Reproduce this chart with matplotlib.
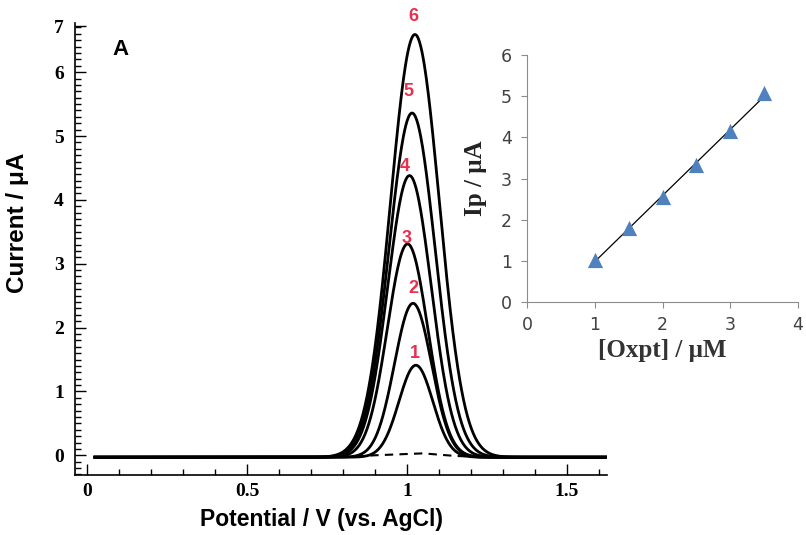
import numpy as np
import matplotlib
matplotlib.use("Agg")
import matplotlib.pyplot as plt
from matplotlib.ticker import MultipleLocator

# peak data (curves 1..6)
curve_labels = ["1", "2", "3", "4", "5", "6"]
peak_heights = [1.44, 2.41, 3.34, 4.41, 5.39, 6.62]    # uA above baseline
peak_centres = [1.028, 1.019, 1.002, 1.008, 1.016, 1.025]  # V
peak_widths = [0.053, 0.058, 0.063, 0.068, 0.072, 0.076]   # V (gaussian sigma)
baseline = -0.03

# where the red curve numbers sit
label_x = [1.025, 1.019, 1.000, 0.994, 1.006, 1.019]
label_y = [1.59, 2.61, 3.39, 4.53, 5.70, 6.875]

# blank (dashed) trace
blank_x = [0.84, 0.90, 0.95, 1.00, 1.05, 1.10, 1.15, 1.20]
blank_y = [-0.02, 0.00, 0.01, 0.02, 0.03, 0.01, -0.01, -0.02]

# inset calibration data
conc = [1.0, 1.5, 2.0, 2.5, 3.0, 3.5]
ip = [1.02, 1.80, 2.55, 3.33, 4.15, 5.07]

potential = np.linspace(0.025, 1.625, 801)

fig = plt.figure(figsize=(8.06, 5.35), dpi=100)
ax = fig.add_axes([0.093, 0.112, 0.660, 0.845])

for h, c, w in zip(peak_heights, peak_centres, peak_widths):
    ax.plot(potential, baseline + h * np.exp(-0.5 * ((potential - c) / w) ** 2),
            color="black", lw=2.0, zorder=3)
ax.plot(blank_x, blank_y, color="black", lw=1.5, ls=(0, (4, 3)), zorder=2)

red = "#e8304c"
for lab, lx, ly in zip(curve_labels, label_x, label_y):
    ax.text(lx, ly, lab, color=red, fontsize=13, fontweight="bold",
            ha="center", va="center", family="Liberation Sans", zorder=4)

ax.text(0.08, 6.27, "A", fontsize=16, fontweight="bold", family="Liberation Sans")

ax.set_xlim(-0.0375, 1.625)
ax.set_ylim(-0.31, 6.77)
for s in ["top", "right"]:
    ax.spines[s].set_visible(False)
ax.spines["left"].set_linewidth(1.2)
ax.spines["bottom"].set_linewidth(1.2)

ax.set_xticks([0, 0.5, 1, 1.5], ["0", "0.5", "1", "1.5"])
ax.xaxis.set_minor_locator(MultipleLocator(0.1))
ax.set_yticks([0, 1, 2, 3, 4, 5, 6, 6.72], ["0", "1", "2", "3", "4", "5", "6", "7"])
ax.yaxis.set_minor_locator(MultipleLocator(0.1))
ax.tick_params(which="both", direction="in", top=False, right=False, width=1)
ax.tick_params(which="major", length=8)
ax.tick_params(which="minor", length=4)
ax.tick_params(axis="x", pad=6)
ax.tick_params(axis="y", pad=8)
for t in ax.get_xticklabels() + ax.get_yticklabels():
    t.set_family("Liberation Serif")
    t.set_fontweight("bold")
    t.set_fontsize(14)

ax.set_xlabel("Potential / V (vs. AgCl)", fontsize=16.5, fontweight="bold",
              family="Liberation Sans")
ax.xaxis.set_label_coords(0.464, -0.073)
ax.set_ylabel("Current / μA", fontsize=17.5, fontweight="bold",
              family="Liberation Sans")
ax.yaxis.set_label_coords(-0.086, 0.557)

# inset
ins = fig.add_axes([0.654, 0.4355, 0.336, 0.4617])
ins.scatter(conc, ip, marker="^", s=120, color="#4f81bd", zorder=3, linewidths=0)
k, b = np.polyfit(conc, ip, 1)
fx = np.array([conc[0], conc[-1]])
ins.plot(fx, k * fx + b, color="black", lw=0.9, zorder=2)
ins.set_xlim(0, 4)
ins.set_ylim(0, 6)
ins.set_xticks(range(0, 5))
ins.set_yticks(range(0, 7))
ins.patch.set_alpha(0)
for s in ["top", "right"]:
    ins.spines[s].set_visible(False)
for s in ["left", "bottom"]:
    ins.spines[s].set_color("#8c8c8c")
ins.tick_params(direction="out", length=4, color="#8c8c8c", labelcolor="#404040",
                labelsize=12.5)
ins.tick_params(axis="y", pad=7)
ins.tick_params(axis="x", pad=6)
for t in ins.get_xticklabels() + ins.get_yticklabels():
    t.set_family("DejaVu Sans")
ins.set_xlabel("[Oxpt] / μM", fontsize=18, fontweight="bold",
               family="Liberation Serif", color="#333333", labelpad=4)
ins.set_ylabel("Ip / μA", fontsize=18, fontweight="bold",
               family="Liberation Serif", color="#222222", labelpad=10)

fig.savefig("out.png", dpi=100)
